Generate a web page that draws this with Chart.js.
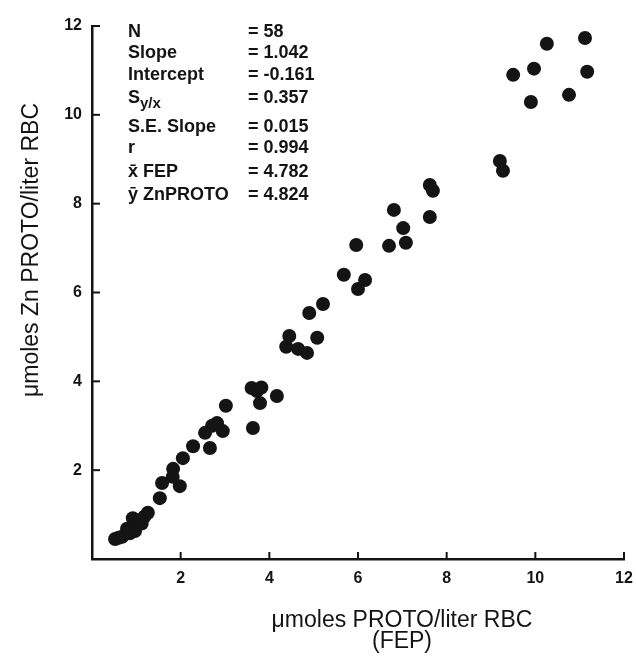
<!DOCTYPE html>
<html>
<head>
<meta charset="utf-8">
<script src="https://cdn.jsdelivr.net/npm/chart.js@4.4.0/dist/chart.umd.min.js"></script>
<style>
  body { margin: 0; background: #fff; }
  #wrap { width: 636px; height: 656px; position: relative; }
</style>
</head>
<body>
<div id="wrap"><canvas id="myChart"></canvas></div>
<script>
// FEP vs Zn protoporphyrin, umol/liter RBC
const fepValues = [
  10.26, 11.12, 9.97, 9.50, 11.17, 10.76, 9.90,
  9.20, 9.27,
  7.62, 7.69, 7.62,
  6.81, 7.02, 7.08, 6.70, 5.96,
  5.68, 6.16, 6.00,
  5.21, 4.90, 5.08,
  4.45, 4.38, 4.65, 4.85,
  3.60, 3.72, 3.82,
  4.17, 3.79, 3.63, 3.02,
  2.82, 2.55, 2.95, 2.71, 2.66,
  2.28, 2.05, 1.83,
  1.58, 1.98, 1.82,
  1.53,
  1.26, 1.18, 0.92, 1.08, 0.79, 0.97, 0.52, 0.68, 0.85, 1.00, 0.60, 1.12
];
const znProtoValues = [
  11.60, 11.73, 11.04, 10.90, 10.97, 10.45, 10.29,
  8.96, 8.74,
  8.42, 8.29, 7.70,
  7.86, 7.45, 7.12, 7.05, 7.07,
  6.40, 6.28, 6.08,
  5.74, 5.54, 4.98,
  5.02, 4.78, 4.73, 4.64,
  3.85, 3.78, 3.86,
  3.67, 3.51, 2.95, 3.45,
  3.06, 2.84, 2.88, 3.00, 2.50,
  2.54, 2.27, 2.03,
  1.71, 1.64, 1.85,
  1.37,
  1.04, 0.95, 0.92, 0.86, 0.68, 0.63, 0.45, 0.50, 0.58, 0.75, 0.48, 0.80
];
const tickValues = [2, 4, 6, 8, 10, 12];

const statLabels = ['N', 'Slope', 'Intercept', 'S', 'S.E. Slope', 'r', 'x\u0304 FEP', '\u0233 ZnPROTO'];
const statValues = ['= 58', '= 1.042', '= -0.161', '= 0.357', '= 0.015', '= 0.994', '= 4.782', '= 4.824'];

const xTitle = ['\u03bcmoles PROTO/liter RBC', '(FEP)'];
const yTitle = '\u03bcmoles Zn PROTO/liter RBC';

const ink = '#141414';
const fontFam = '"Liberation Sans", Arial, sans-serif';

// inward tick marks
const tickMarks = {
  id: 'tickMarks',
  afterDraw(chart) {
    const ctx = chart.ctx;
    const xs = chart.scales.x, ys = chart.scales.y;
    const area = chart.chartArea;
    ctx.save();
    ctx.strokeStyle = ink;
    ctx.lineWidth = 2;
    tickValues.forEach(v => {
      const px = xs.getPixelForValue(v);
      ctx.beginPath();
      ctx.moveTo(px, area.bottom);
      ctx.lineTo(px, area.bottom - 7);
      ctx.stroke();
      const py = ys.getPixelForValue(v);
      ctx.beginPath();
      ctx.moveTo(area.left, py);
      ctx.lineTo(area.left + 8, py);
      ctx.stroke();
    });
    ctx.restore();
  }
};

// axis titles and regression stats
const labelsPlugin = {
  id: 'labelsPlugin',
  afterDraw(chart) {
    const ctx = chart.ctx;
    ctx.save();
    ctx.fillStyle = ink;

    ctx.font = '23px ' + fontFam;
    ctx.textAlign = 'center';
    ctx.textBaseline = 'middle';
    ctx.fillText(xTitle[0], 402, 621);
    ctx.fillText(xTitle[1], 402, 642);

    ctx.translate(32, 250);
    ctx.rotate(-Math.PI / 2);
    ctx.fillText(yTitle, 0, 0);
    ctx.setTransform(1, 0, 0, 1, 0, 0);

    const rows = [32, 53, 75, 98, 127, 148, 172, 195];
    ctx.font = 'bold 18px ' + fontFam;
    ctx.textAlign = 'left';
    statLabels.forEach((t, i) => {
      ctx.fillText(t, 128, rows[i]);
      if (t === 'S') {
        const w = ctx.measureText('S').width;
        ctx.font = 'bold 15px ' + fontFam;
        ctx.fillText('y/x', 128 + w, rows[i] + 6);
        ctx.font = 'bold 18px ' + fontFam;
      }
      ctx.fillText(statValues[i], 248, rows[i]);
    });
    ctx.restore();
  }
};

const ctx = document.getElementById('myChart').getContext('2d');
const myChart = new Chart(ctx, {
  type: 'scatter',
  data: {
    datasets: [{
      label: 'FEP vs ZnPROTO',
      data: fepValues.map((x, i) => ({ x: x, y: znProtoValues[i] })),
      backgroundColor: ink,
      borderWidth: 0,
      pointRadius: 7,
      pointHoverRadius: 7,
      clip: false
    }]
  },
  options: {
    responsive: true,
    maintainAspectRatio: false,
    animation: false,
    layout: { padding: { top: 26, right: 12, left: 0, bottom: 0 } },
    plugins: {
      legend: { display: false },
      tooltip: { enabled: false }
    },
    scales: {
      x: {
        type: 'linear',
        min: 0,
        max: 12,
        afterFit(scale) {
          scale.height = 97;
          scale.paddingLeft = 0;
          scale.paddingRight = 0;
        },
        afterBuildTicks(scale) { scale.ticks = tickValues.map(v => ({ value: v })); },
        ticks: {
          color: ink,
          padding: 10,
          maxRotation: 0,
          font: { family: fontFam, size: 16, weight: 'bold' }
        },
        grid: { display: false, drawTicks: false },
        border: { display: true, color: ink, width: 2.5 }
      },
      y: {
        type: 'linear',
        min: 0,
        max: 12,
        afterFit(scale) {
          scale.width = 92;
          scale.paddingTop = 0;
          scale.paddingBottom = 0;
        },
        afterBuildTicks(scale) { scale.ticks = tickValues.map(v => ({ value: v })); },
        ticks: {
          color: ink,
          padding: 10,
          font: { family: fontFam, size: 16, weight: 'bold' }
        },
        grid: { display: false, drawTicks: false },
        border: { display: true, color: ink, width: 2.5 }
      }
    }
  },
  plugins: [tickMarks, labelsPlugin]
});
</script>
</body>
</html>
